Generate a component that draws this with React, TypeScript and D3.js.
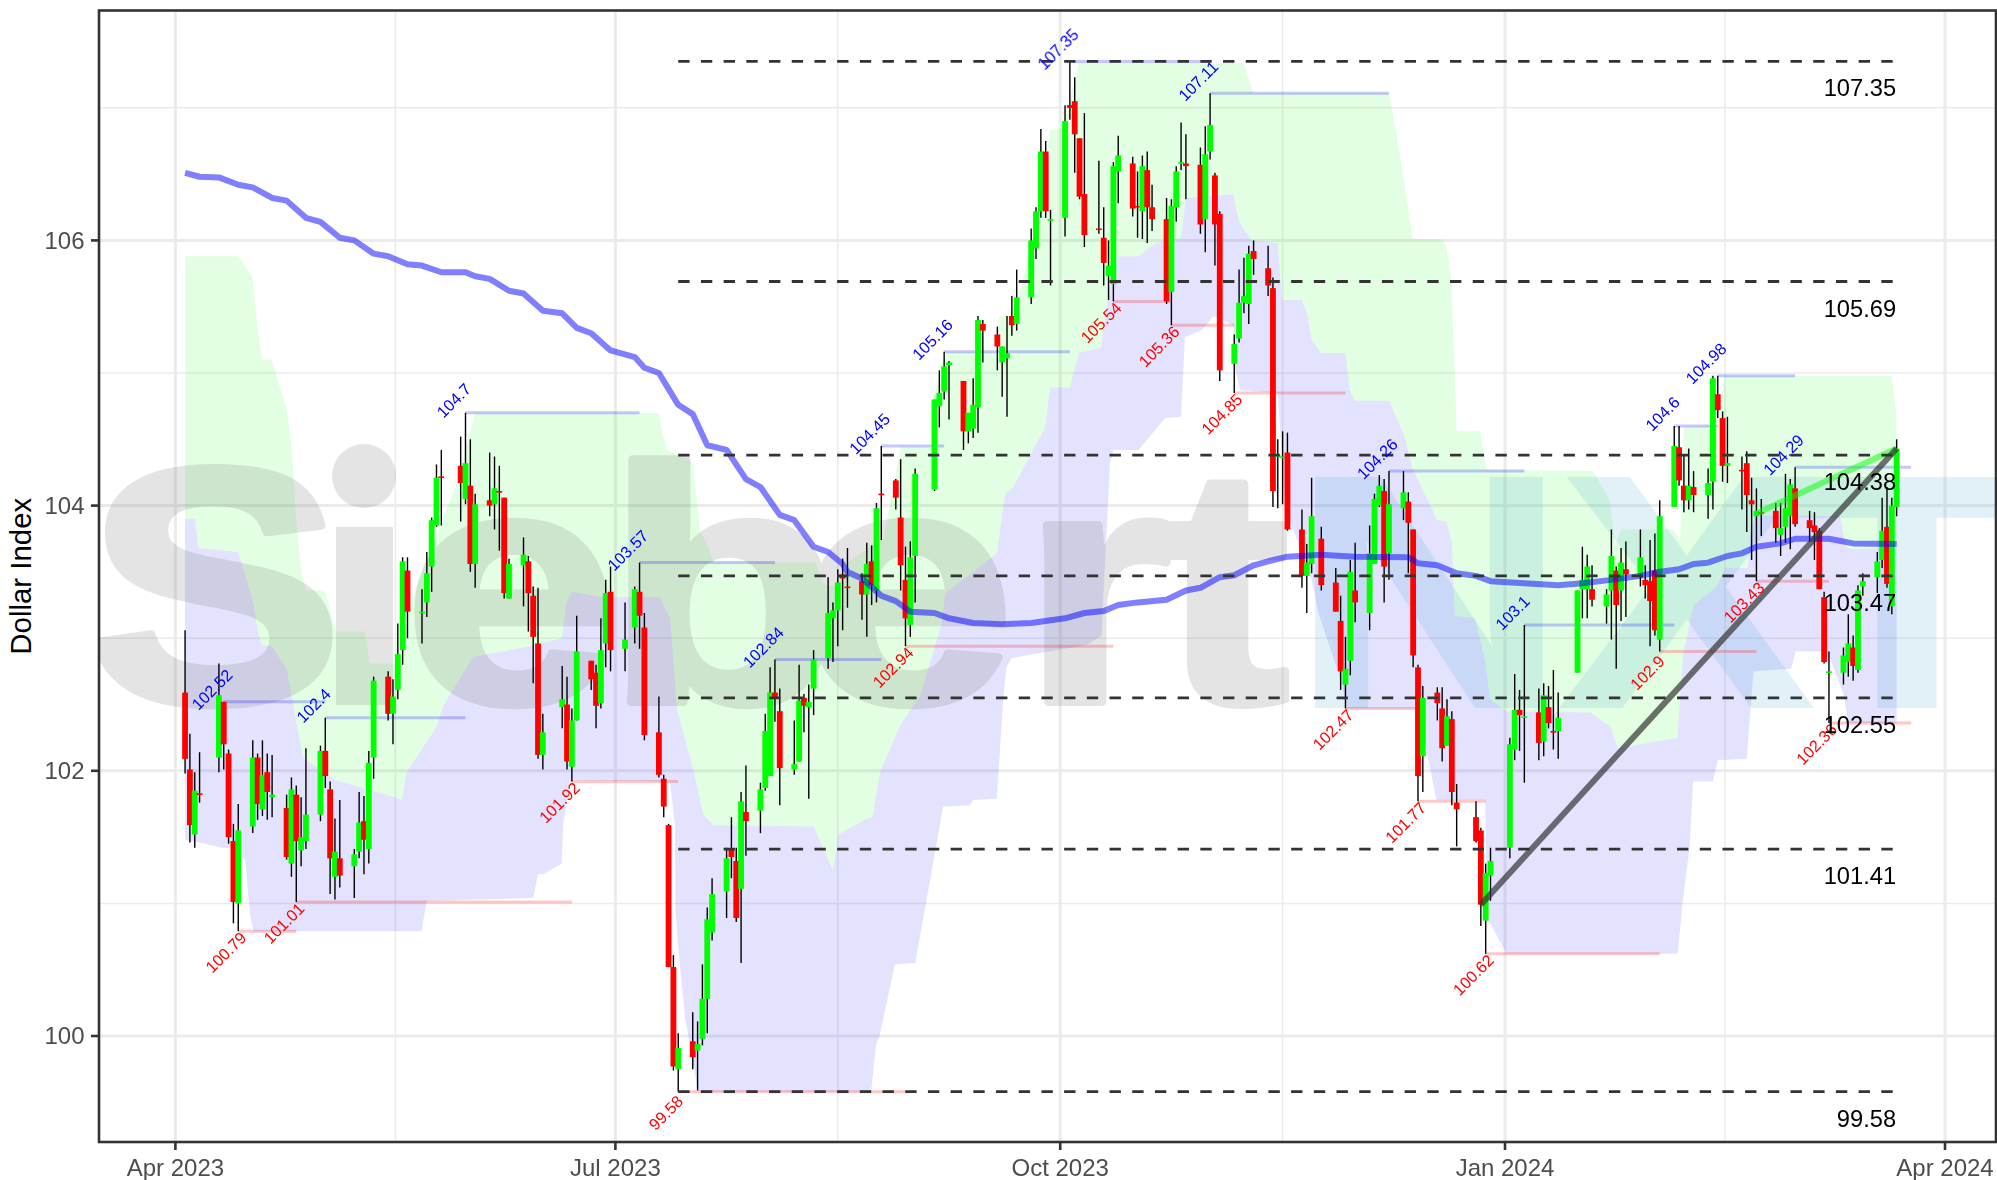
import React from "react";
import * as d3 from "d3";

// All day values are days since 2023-04-01.
const tradingDays = [
  2,3,4,5, 9,10,11,12,13, 16,17,18,19,20, 23,24,25,26,27, 30,31,32,33,34, 37,38,39,40,41, 44,45,46,47,48, 51,52,53,54,55,
  59,60,61,62, 65,66,67,68,69, 72,73,74,75,76, 80,81,82,83, 86,87,88,89,90, 93,95,96,97, 100,101,102,103,104,
  107,108,109,110,111, 114,115,116,117,118, 121,122,123,124,125, 128,129,130,131,132, 135,136,137,138,139, 142,143,144,145,146,
  149,150,151,152,153, 157,158,159,160, 163,164,165,166,167, 170,171,172,173,174, 177,178,179,180,181,
  184,185,186,187,188, 191,192,193,194,195, 198,199,200,201,202, 205,206,207,208,209, 212,213,214,215,216,
  219,220,221,222,223, 226,227,228,229,230, 233,234,235,237, 240,241,242,243,244, 247,248,249,250,251, 254,255,256,257,258,
  261,262,263,264,265, 269,270,271,272, 276,277,278,279, 282,283,284,285,286, 290,291,292,293, 296,297,298,299,300,
  303,304,305,306,307, 310,311,312,313,314, 317,318,319,320,321, 324,325,326,327,328, 331,332,333,334,335,
  338,339,340,341,342, 345,346,347,348,349, 352,353,354,355,356,
];
const opens = [
  102.59,102.01,101.52,101.83, 102.10,102.52,102.13,101.47,101.00, 101.58,102.10,101.71,101.99,101.80, 101.72,101.30,101.82,101.40,101.47, 101.67,102.15,101.86,101.20,101.34, 101.28,101.39,101.62,101.41,102.10, 102.71,102.43,102.61,102.91,103.51, 103.19,103.27,103.54,103.85,104.22,
  104.30,104.05,104.15,103.56, 104.04,104.01,104.11,104.06,103.30, 103.55,103.58,103.32,102.96,102.12, 102.48,102.50,102.03,102.38, 102.83,102.74,102.51,102.96,103.35, 102.92,103.08,103.35,103.08, 102.29,101.94,101.59,100.52,99.75,
  99.96,99.89,99.98,100.28,100.78, 101.09,101.41,101.32,101.11,101.69, 101.70,101.87,101.96,102.59,102.45, 102.01,102.07,102.55,102.48,102.62, 102.85,103.15,103.21,103.48,103.39, 103.43,103.33,103.58,103.36,104.09,
  104.19,103.91,103.44,103.10,103.62, 104.12,104.75,104.86,105.06, 104.94,104.56,104.58,104.74,105.37, 105.29,105.08,105.11,105.43,105.37, 105.57,105.94,106.22,106.67,106.15,
  106.17,107.02,107.05,106.77,106.35, 106.09,106.02,105.73,105.67,106.52, 106.58,106.26,106.22,106.53,106.25, 106.16,105.61,106.25,106.58,106.58, 106.57,106.16,106.67,106.49,106.20,
  105.07,105.26,105.53,105.52,105.92, 105.79,105.64,104.37,104.36,104.40, 103.82,103.47,103.56,103.75, 103.42,103.13,102.65,102.83,103.36, 103.19,103.56,104.00,104.11,103.64, 103.98,104.03,103.82,102.78,102.11,
  102.59,102.47,102.19,102.39,101.76, 101.65,101.55,100.87,101.21, 101.42,102.16,102.46,102.40, 102.44,102.22,102.48,102.30,102.30, 102.74,103.37,103.37,103.37, 103.24,103.36,103.51,103.36,103.52,
  103.48,103.44,103.43,103.51,102.99, 103.99,104.44,104.15,104.04,104.14, 104.08,104.18,104.84,104.66,104.30, 104.27,104.32,104.04,103.92,103.95, 103.96,103.78,103.84,103.92,104.13,
  103.89,103.85,103.81,103.31,102.74, 102.74,102.82,102.93,102.76,103.39, 103.46,103.59,103.84,103.24,103.99,
];
const highs = [
  103.06,102.28,101.99,102.14, 102.81,102.52,102.16,101.60,101.75, 102.23,102.13,102.23,102.13,102.12, 101.82,101.95,101.89,101.80,102.17, 102.19,102.40,101.92,101.64,101.78, 101.41,101.84,101.81,102.15,102.71, 102.75,102.69,103.11,103.61,103.61, 103.37,103.65,103.91,104.31,104.42,
  104.52,104.70,104.50,104.09, 104.40,104.37,104.30,104.06,103.60, 103.76,103.62,103.39,103.38,102.43, 102.79,102.71,102.47,103.17, 102.83,102.80,103.15,103.44,103.54, 103.27,103.39,103.57,103.19, 102.56,101.97,101.60,100.61,100.02,
  100.18,100.11,100.54,100.97,101.19, 101.42,101.65,101.42,101.84,102.04, 101.91,102.43,102.78,102.84,102.62, 102.38,102.80,102.58,102.65,102.91, 103.46,103.27,103.52,103.60,103.68, 103.49,103.72,103.70,104.02,104.45,
  104.20,104.35,103.69,103.73,104.28, 104.80,105.02,105.16,105.09, 104.94,104.70,104.96,105.43,105.40, 105.35,105.20,105.43,105.58,105.78, 106.09,106.25,106.84,106.75,106.23,
  107.02,107.35,107.23,106.77,106.96, 106.60,106.25,106.00,106.59,106.79, 106.63,106.52,106.64,106.67,106.42, 106.32,106.31,106.56,106.89,106.80, 106.70,106.86,107.11,106.51,106.22,
  105.29,105.78,105.87,105.96,106.00, 105.96,105.72,104.50,104.56,104.55, 103.97,103.71,104.21,103.84, 103.53,103.32,103.01,103.59,103.72, 103.85,104.09,104.23,104.20,104.26, 104.26,104.10,103.82,102.80,102.64,
  102.63,102.63,102.54,102.45,101.90, 101.77,101.57,101.30,101.42, 102.25,102.73,102.61,103.10, 102.62,102.66,102.64,102.76,102.59, 103.36,103.69,103.63,103.55, 103.37,103.82,103.54,103.68,103.73,
  103.82,103.55,103.74,103.79,104.04, 104.60,104.60,104.38,104.43,104.26, 104.28,104.98,104.98,104.71,104.67, 104.37,104.41,104.21,104.13,104.05, 104.02,104.02,104.24,104.20,104.29,
  103.96,103.95,103.83,103.35,102.90, 102.93,103.18,103.02,103.40,103.49, 103.65,104.06,104.14,104.06,104.50,
];
const lows = [
  101.98,101.46,101.42,101.76, 101.99,102.01,101.45,100.85,100.79, 101.53,101.63,101.66,101.63,101.65, 101.33,101.20,101.01,101.28,101.41, 101.62,101.87,101.07,101.03,101.12, 101.04,101.34,101.22,101.30,101.94, 102.38,102.20,102.54,102.80,103.00, 102.96,103.16,103.35,103.84,103.85,
  103.88,104.01,103.50,103.38, 103.92,103.82,103.66,103.30,103.30, 103.24,103.05,102.66,102.09,102.01, 102.32,102.01,101.92,102.38, 102.61,102.32,102.47,102.78,102.75, 102.75,102.96,102.92,102.23, 101.95,101.65,100.52,99.74,99.58,
  99.75,99.59,99.93,100.02,100.72, 100.89,101.19,100.86,100.55,101.36, 101.53,101.85,101.96,102.37,101.74, 101.97,102.07,102.29,101.79,102.42, 102.77,102.82,102.94,103.06,103.23, 103.14,103.01,103.25,103.27,103.74,
  103.97,103.36,102.94,103.01,103.27, 104.11,104.59,104.80,104.65, 104.42,104.47,104.51,104.55,105.08, 105.02,104.82,104.67,105.28,105.32, 105.52,105.86,106.17,106.17,105.66,
  106.03,106.91,106.51,106.31,105.95, 106.05,105.66,105.55,105.54,106.28, 106.18,106.02,106.01,105.98,106.07, 105.52,105.36,106.14,106.53,106.31, 106.05,105.91,106.61,105.81,104.94,
  104.85,105.23,105.45,105.37,105.74, 105.58,103.99,103.98,104.01,103.81, 103.38,103.19,103.49,103.36, 103.20,102.61,102.47,102.72,103.12, 103.06,103.56,103.99,103.27,103.44, 103.89,103.49,102.78,101.77,101.84,
  102.38,102.07,102.19,101.74,101.43, 101.46,100.83,100.62,101.02, 101.34,102.08,102.15,101.91, 102.08,102.11,102.32,102.16,102.09, 102.74,103.15,103.15,103.24, 103.11,102.99,102.77,103.13,103.16,
  103.39,103.30,102.94,103.02,102.90, 103.99,104.15,103.95,103.97,103.95, 103.90,103.97,104.66,104.18,104.17, 103.97,103.80,103.59,103.43,103.77, 103.72,103.62,103.72,103.67,103.84,
  103.73,103.59,103.37,102.81,102.36, 102.65,102.71,102.68,102.74,103.32, 103.34,103.53,103.38,103.18,103.92,
];
const closes = [
  102.09,101.59,101.85,101.82, 102.57,102.20,101.50,101.01,101.55, 102.10,101.75,101.97,101.84,101.82, 101.35,101.86,101.47,101.50,101.67, 102.15,101.96,101.34,101.39,101.21, 101.37,101.61,101.48,102.06,102.68, 102.43,102.56,102.88,103.58,103.20, 103.20,103.49,103.89,104.21,104.21,
  104.17,104.32,103.56,104.01, 104.00,104.13,104.10,103.34,103.56, 103.63,103.34,103.01,102.12,102.29, 102.54,102.07,102.38,102.90, 102.69,102.49,102.91,103.34,102.91, 102.99,103.37,103.17,102.27, 101.97,101.73,100.52,99.77,99.91,
  99.84,99.94,100.28,100.88,101.07, 101.34,101.35,100.89,101.77,101.62, 101.86,102.30,102.59,102.55,102.02, 102.05,102.53,102.49,102.52,102.84, 103.19,103.21,103.42,103.45,103.38, 103.33,103.56,103.40,103.98,104.08,
  104.06,103.55,103.15,103.61,104.24, 104.80,104.85,105.05,105.08, 104.56,104.70,104.76,105.40,105.32, 105.20,105.20,105.15,105.36,105.57, 106.00,106.22,106.67,106.22,106.16,
  106.90,107.00,106.80,106.33,106.04, 106.08,105.83,105.81,106.56,106.64, 106.24,106.25,106.56,106.25,106.16, 105.54,106.26,106.52,106.59,106.56, 106.12,106.65,106.87,106.12,105.02,
  105.22,105.53,105.58,105.90,105.86, 105.66,104.11,104.38,104.37,103.82, 103.47,103.57,103.92,103.40, 103.20,102.75,102.77,103.50,103.27, 103.64,104.05,104.15,103.54,104.01, 104.10,103.87,102.87,101.96,102.55,
  102.51,102.17,102.41,101.84,101.71, 101.47,100.99,101.23,101.32, 102.20,102.46,102.42,102.41, 102.21,102.57,102.36,102.29,102.40, 103.36,103.44,103.54,103.29, 103.33,103.62,103.25,103.57,103.48,
  103.61,103.40,103.28,103.06,103.92, 104.45,104.19,104.04,104.15,104.08, 104.17,104.96,104.72,104.30,104.32, 104.26,104.08,104.01,103.96,103.94, 103.83,103.83,103.98,104.16,103.86,
  103.83,103.80,103.37,102.82,102.75, 102.87,102.96,102.79,103.36,103.43, 103.58,103.81,103.41,104.00,104.43,
];

const maDays = [2,5,9,13,16,20,23,27,30,34,37,41,44,48,51,55,60,62,65,69,72,76,80,83,86,90,95,97,100,104,107,110,114,118,121,125,128,132,135,138,139,142,146,149,152,157,160,165,171,177,184,188,192,195,199,205,209,212,216,219,223,226,230,237,244,255,257,261,265,269,272,279,286,291,297,303,306,311,314,317,321,324,327,332,335,342,347,356];
const maValues = [106.51,106.48,106.475,106.42,106.40,106.32,106.30,106.17,106.14,106.02,106.00,105.90,105.88,105.82,105.81,105.76,105.76,105.73,105.71,105.62,105.60,105.47,105.45,105.34,105.30,105.17,105.12,105.04,105.00,104.76,104.69,104.455,104.42,104.20,104.14,103.93,103.89,103.69,103.65,103.56,103.50,103.45,103.32,103.28,103.20,103.19,103.15,103.115,103.105,103.115,103.15,103.19,103.205,103.25,103.27,103.29,103.36,103.38,103.46,103.475,103.55,103.58,103.615,103.63,103.615,103.61,103.565,103.55,103.49,103.47,103.43,103.415,103.40,103.415,103.44,103.47,103.495,103.52,103.56,103.57,103.62,103.64,103.69,103.715,103.75,103.75,103.715,103.71];

const upperDays = [2,13,15.9,17,17.9,19.9,23,24.1,25.1,26.1,27,30.9,32.3,33.3,39.2,40.2,44.7,46,48.5,58.2,62,99.9,100.9,101.9,106.1,107,108.5,110.2,110.9,111.5,132.4,134,137,139,146.5,150,156.4,156.8,159.5,170,170.3,173.3,176.7,179.2,180.9,183.6,186.9,220.9,223,251,251.9,253.9,255,255.9,261.9,262.9,263.9,264.6,265,269.9,271.1,293.3,296.7,297.8,299.1,309.8,311.2,312,318.8,320.5,355,355.9,356];
const upperValues = [105.88,105.88,105.73,105.35,105.10,105.10,104.73,104.42,103.84,103.49,103.36,103.36,103.16,103.05,103.05,102.81,102.81,102.80,103.26,104.17,104.70,104.70,104.52,104.41,104.35,104.32,103.81,103.69,103.61,103.57,103.57,103.41,103.39,103.57,103.76,104.44,104.44,104.82,105.16,105.16,105.43,105.43,105.90,106.40,106.83,106.85,107.34,107.34,107.11,107.11,106.93,106.50,106.23,106.01,106.01,105.95,105.70,105.00,104.56,104.56,104.27,104.26,104.03,103.71,103.82,103.82,103.74,104.59,104.61,104.98,104.98,104.72,104.43];

const midDays = [2,4.05,4.74,13,15.8,16.1,17,17.8,19.9,23,26.4,33,45.4,46.8,47.8,54,55.4,61.6,72,79.9,80.9,82,87.8,100.2,102.3,103.7,104,107.1,109.2,111.3,132,136,137.1,142.6,144.2,145.7,150,154,158.5,159.2,163.3,169.9,171.6,173.3,179.9,180.9,185,186.8,191.4,192.9,194.7,199.2,202.7,208,209,218.8,220,222.6,228,228.9,233,234.1,235,236.9,242,242.9,243.9,251,254,256,261,262.9,264,264.6,268.8,270.9,271.9,275.3,292.7,296.9,298.3,310.7,311.2,311.9,314,318.8,320.5,325.2,325.7,326.7,344.3,345.5,347,356];
const midValues = [103.90,103.90,103.68,103.65,103.31,103.27,103.06,102.95,102.94,102.77,102.10,101.93,101.80,101.78,101.99,102.33,102.49,102.86,102.93,103.00,103.27,103.35,103.31,103.31,103.15,102.48,102.43,102.01,101.67,101.59,101.58,101.25,101.52,101.63,101.65,101.99,102.35,102.56,103.11,103.34,103.45,103.64,104.09,104.14,104.59,104.89,104.89,105.15,105.19,105.57,105.88,105.88,105.98,106.02,106.32,106.35,106.14,106.00,105.98,105.55,105.55,105.45,105.25,105.15,105.15,104.87,104.79,104.79,104.54,104.27,103.89,103.88,103.73,103.17,103.15,102.83,102.54,102.45,102.44,102.33,102.17,102.25,102.58,102.89,103.25,103.39,103.53,103.53,103.79,103.93,103.92,103.69,103.67,103.68];

const lowerDays = [2,5,9.5,11.6,14.4,15.4,16.1,50.9,52,74,75,76.1,79.9,80.2,81.6,82.3,102.3,103.3,103.4,104,105.4,107.8,108.1,143.9,144.9,145.7,148.8,153,155,158.8,164.3,165,169.9,171.2,171.9,173,188.5,191.6,191.9,193.3,194,199.2,204.7,208,208.8,212.2,214.7,218.8,219.2,220.2,228,228.5,229.5,230.5,235,236.4,241,242.3,256.7,257.8,260.8,270.9,271.2,271.5,275.3,310.7,311.8,313.2,313.9,318,319,325,326.4,334.2,335.1,340.3,342.2,345,346,356];
const lowerValues = [101.48,101.46,101.42,101.42,101.33,100.93,100.79,100.79,101.02,101.04,101.22,101.22,101.30,101.60,101.90,101.93,101.92,101.59,100.95,100.67,100.14,99.64,99.58,99.58,99.93,100.01,100.54,100.55,100.95,101.73,101.74,101.78,101.79,102.54,102.78,102.85,102.95,103.02,103.31,104.32,104.42,104.42,104.66,104.67,105.27,105.32,105.43,105.36,105.03,104.87,104.85,104.57,103.99,103.89,103.44,103.19,102.69,102.47,102.47,102.33,101.78,101.78,101.16,100.88,100.62,100.62,101.03,101.43,101.92,101.92,102.08,102.09,102.75,102.77,102.90,102.90,102.85,102.58,102.36,102.36];

const highPivotDays = [10,31,60,96,124,146,159,185,214,251,279,310,319,335];
const highPivotValues = [102.52,102.4,104.7,103.57,102.84,104.45,105.16,107.35,107.11,104.26,103.1,104.6,104.98,104.29];
const lowPivotDays = [13,25,82,104,151,194,206,219,242,257,271,307,327,342];
const lowPivotValues = [100.79,101.01,101.92,99.58,102.94,105.54,105.36,104.85,102.47,101.77,100.62,102.9,103.43,102.36];
const pivotEndDay = 359;

const fibLevels = [107.35,105.69,104.38,103.47,102.55,101.41,99.58];
const fibDays = [104,356];

const longTrendDays = [270,356];
const longTrendValues = [100.99,104.43];
const shortTrendDays = [327,356];
const shortTrendValues = [103.94,104.43];

const yTicks = [100,102,104,106];
const yMinorTicks = [101,103,105,107];
const xTickDays = [0,91,183,275,366];
const xTickLabels = ["Apr 2023","Jul 2023","Oct 2023","Jan 2024","Apr 2024"];
const xMinorDays = [45.5,137,229,320.5];

// Logo watermark: glyphs placed individually (pixel origin of each glyph).
const siebertGlyphs = ["S","e","b","e","r","t"];
const siebertOrigins = [86,404,606,800,1022,1161];
const nxtGlyphs = ["N","X","T"];
const nxtOrigins = [1292,1560,1791];

const W = 1997, H = 1180;
const panel = { left: 99, top: 10.5, right: 1996, bottom: 1142 };
const FONT = "'Liberation Sans', Arial, Helvetica, sans-serif";

const x = d3.scaleLinear().domain([0,366]).range([175.4,1945]);
const y = d3.scaleLinear().domain([100,106]).range([1036,240.4]);

const linePath = d3.line<[number,number]>().x(d => x(d[0])).y(d => y(d[1]));
const zipPts = (ds: number[], vs: number[]) => ds.map((d,i) => [d,vs[i]] as [number,number]);
const band = (ad: number[], av: number[], bd: number[], bv: number[]) =>
  linePath([...zipPts(ad,av), ...zipPts(bd,bv).reverse()]) + "Z";

export default function App() {
  const segs = (days: number[]) => days.map((d,i) => [d, i+1<days.length ? days[i+1] : pivotEndDay]);
  return (
    <svg width={W} height={H} viewBox={`0 0 ${W} ${H}`} style={{position:"absolute",left:0,top:0,display:"block",background:"#fff"}} fontFamily={FONT}>
      <defs>
        <clipPath id="panelClip">
          <rect x={panel.left} y={panel.top} width={panel.right-panel.left} height={panel.bottom-panel.top}/>
        </clipPath>
      </defs>
      <g>
        {yMinorTicks.map(t => <line key={t} x1={panel.left} x2={panel.right} y1={y(t)} y2={y(t)} stroke="#EBEBEB" strokeWidth={1.5}/>)}
        {xMinorDays.map(t => <line key={t} x1={x(t)} x2={x(t)} y1={panel.top} y2={panel.bottom} stroke="#EBEBEB" strokeWidth={1.5}/>)}
        {yTicks.map(t => <line key={t} x1={panel.left} x2={panel.right} y1={y(t)} y2={y(t)} stroke="#EBEBEB" strokeWidth={3}/>)}
        {xTickDays.map(t => <line key={t} x1={x(t)} x2={x(t)} y1={panel.top} y2={panel.bottom} stroke="#EBEBEB" strokeWidth={3}/>)}
      </g>
      <g clipPath="url(#panelClip)">
        <path d={band(upperDays,upperValues,midDays,midValues)} fill="#00ff00" fillOpacity={0.11}/>
        <path d={band(midDays,midValues,lowerDays,lowerValues)} fill="#0000ff" fillOpacity={0.11}/>

        <g opacity={0.18} fill="rgb(105,105,105)" stroke="rgb(105,105,105)" strokeWidth={8} strokeLinejoin="round" fontWeight="bold" fontSize={335}>
          {siebertGlyphs.map((g,i) => (
            <text key={"sg"+i} transform={`translate(${siebertOrigins[i]} 702) scale(1.15 1)`}>{g}</text>
          ))}
          <rect x={336} y={527} width={57} height={178} stroke="none"/>
          <circle cx={364} cy={476} r={32} stroke="none"/>
        </g>
        <g opacity={0.17} fill="rgb(84,167,208)" stroke="rgb(84,167,208)" strokeWidth={4} fontWeight="bold" fontSize={330}>
          {nxtGlyphs.map((g,i) => (
            <text key={"ng"+i} transform={`translate(${nxtOrigins[i]} 706) scale(1.15 1)`}>{g}</text>
          ))}
        </g>

        {segs(highPivotDays).map(([a,b],i) => (
          <line key={"hp"+i} x1={x(a)} x2={x(b)} y1={y(highPivotValues[i])} y2={y(highPivotValues[i])} stroke="#0000ff" strokeOpacity={0.22} strokeWidth={3}/>
        ))}
        {segs(lowPivotDays).map(([a,b],i) => (
          <line key={"lp"+i} x1={x(a)} x2={x(b)} y1={y(lowPivotValues[i])} y2={y(lowPivotValues[i])} stroke="#ff0000" strokeOpacity={0.22} strokeWidth={3}/>
        ))}

        {tradingDays.map((d,i) => (
          <line key={"w"+i} x1={x(d)} x2={x(d)} y1={y(highs[i])} y2={y(lows[i])} stroke="#000" strokeWidth={1.4}/>
        ))}
        {tradingDays.map((d,i) => {
          const top = y(Math.max(opens[i],closes[i]));
          const bottom = y(Math.min(opens[i],closes[i]));
          return <rect key={"b"+i} x={x(d)-2.9} width={5.8} y={top} height={Math.max(bottom-top,1.6)} fill={closes[i]>=opens[i] ? "#00ff00" : "#ff0000"}/>;
        })}

        <path d={linePath(zipPts(maDays,maValues))!} fill="none" stroke="#0000ff" strokeOpacity={0.5} strokeWidth={6} strokeLinejoin="round"/>
        <path d={linePath(zipPts(shortTrendDays,shortTrendValues))!} fill="none" stroke="#00ff00" strokeOpacity={0.5} strokeWidth={6}/>
        <path d={linePath(zipPts(longTrendDays,longTrendValues))!} fill="none" stroke="#333333" strokeOpacity={0.7} strokeWidth={6}/>

        {fibLevels.map(l => (
          <line key={l} x1={x(fibDays[0])} x2={x(fibDays[1])} y1={y(l)} y2={y(l)} stroke="#333333" strokeWidth={2.8} strokeDasharray="11.35 11.35"/>
        ))}

        {highPivotDays.map((d,i) => {
          const px = x(d)-11.8, py = y(highPivotValues[i])-12.4;
          return <text key={"hl"+i} x={px} y={py} dy="0.36em" textAnchor="middle" fontSize={16.2} fill="#0000ff" transform={`rotate(-45 ${px} ${py})`}>{String(highPivotValues[i])}</text>;
        })}
        {lowPivotDays.map((d,i) => {
          const px = x(d)-12.5, py = y(lowPivotValues[i])+21;
          return <text key={"ll"+i} x={px} y={py} dy="0.36em" textAnchor="middle" fontSize={16.2} fill="#ff0000" transform={`rotate(-45 ${px} ${py})`}>{String(lowPivotValues[i])}</text>;
        })}
        {fibLevels.map(l => (
          <text key={"fl"+l} x={x(fibDays[1])-0.5} y={y(l)+35} textAnchor="end" fontSize={23.7} fill="#000">{l.toFixed(2)}</text>
        ))}
      </g>

      <rect x={panel.left} y={panel.top} width={panel.right-panel.left} height={panel.bottom-panel.top} fill="none" stroke="#333333" strokeWidth={2.6}/>

      {yTicks.map(t => (
        <g key={"yt"+t}>
          <line x1={panel.left-8} x2={panel.left} y1={y(t)} y2={y(t)} stroke="#333333" strokeWidth={2.6}/>
          <text x={panel.left-14.5} y={y(t)+8.4} textAnchor="end" fontSize={24} fill="#4D4D4D">{t}</text>
        </g>
      ))}
      {xTickDays.map((t,i) => (
        <g key={"xt"+t}>
          <line x1={x(t)} x2={x(t)} y1={panel.bottom} y2={panel.bottom+8} stroke="#333333" strokeWidth={2.6}/>
          <text x={x(t)} y={1175.5} textAnchor="middle" fontSize={24} fill="#4D4D4D">{xTickLabels[i]}</text>
        </g>
      ))}
      <text transform={`translate(31 ${(panel.top+panel.bottom)/2}) rotate(-90)`} textAnchor="middle" fontSize={29.4} fill="#000">Dollar Index</text>
    </svg>
  );
}
